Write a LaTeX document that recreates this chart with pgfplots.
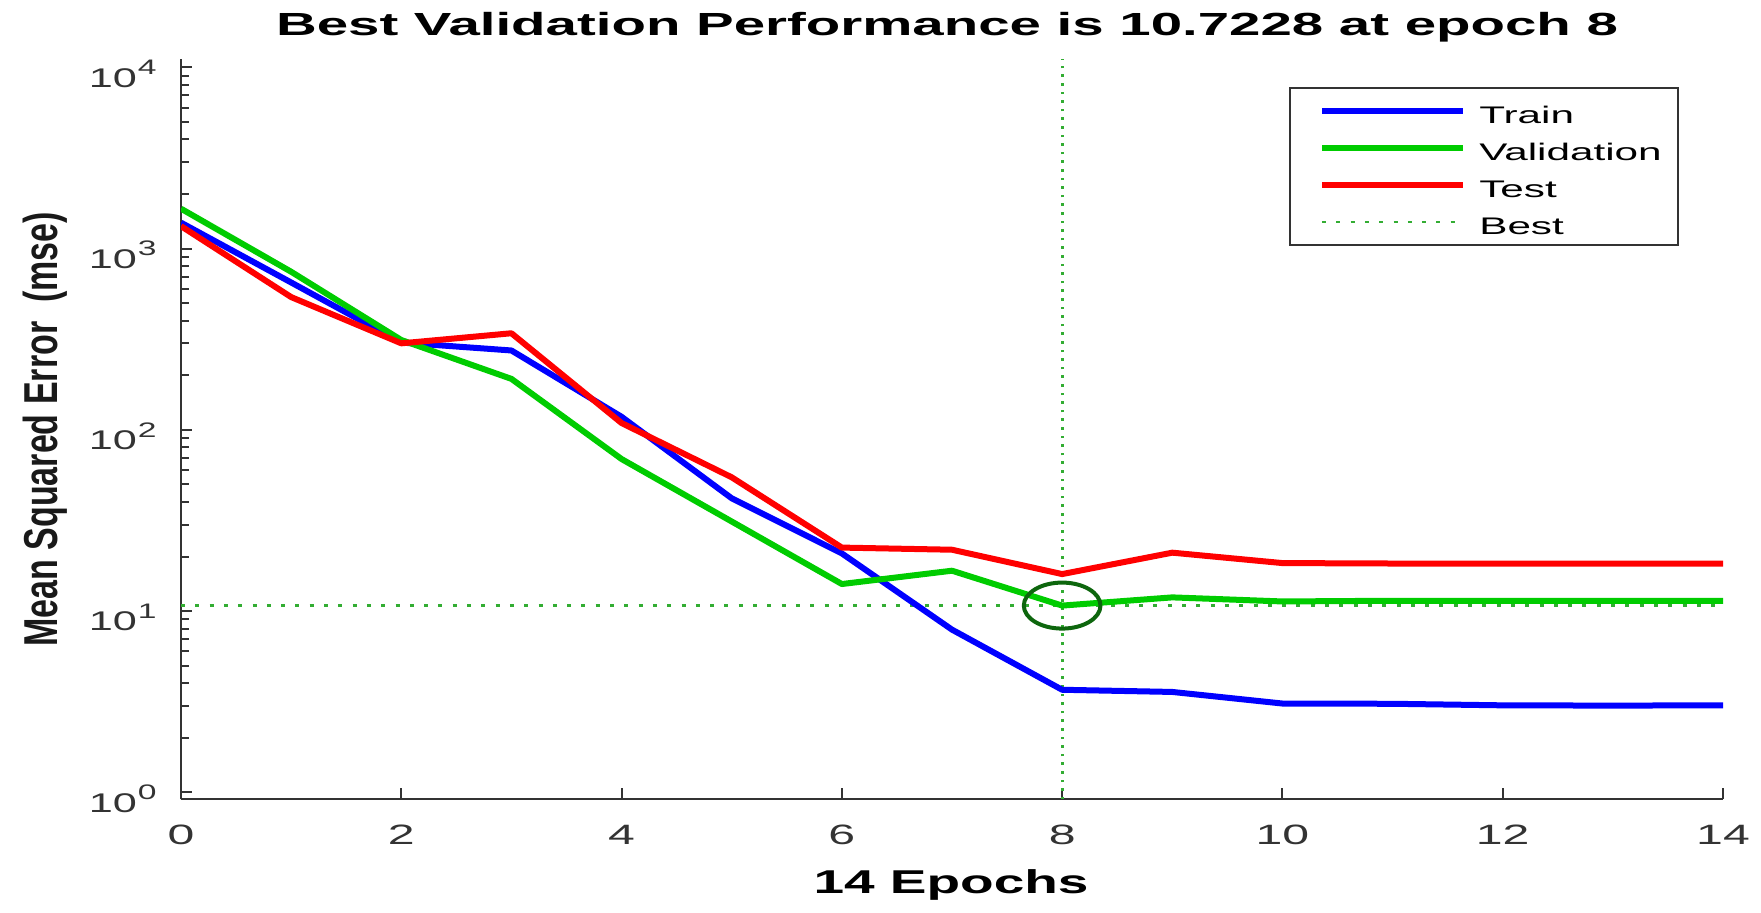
\documentclass[border=0pt]{standalone}
\usepackage{pgfplots}
\pgfplotsset{compat=1.18}
\usepackage{pgfplotstable}
\usepackage{graphicx}
\usepackage{fontspec}
\setmainfont{Liberation Sans}

\definecolor{mblue}{rgb}{0,0,1}
\definecolor{mgreen}{rgb}{0,0.8,0}
\definecolor{mred}{rgb}{1,0,0}
\definecolor{bestg}{rgb}{0.2,0.68,0.2}
\definecolor{circg}{rgb}{0.05,0.4,0.05}
\definecolor{axgray}{rgb}{0.2,0.2,0.2}

% the source figure is stretched sideways, so the text is too
\newcommand{\sx}[2][1.72]{\scalebox{#1}[1]{#2}}
\newcommand{\yl}[1]{\scalebox{1.6}[1]{\fontsize{13.5}{15}\selectfont 10\kern0.3pt\raisebox{6.2pt}{\fontsize{10.5}{12}\selectfont #1}}}

% mse per epoch
\pgfplotstableread{
ep  train  valid    test
0   1390   1660     1330
1   650    745      540
2   303    313      300
3   274    191      341
4   118    69       109
5   41.9   31.2     54.7
6   20.8   14.1     22.4
7   7.9    16.7     21.8
8   3.68   10.7228  16.0
9   3.58   11.9     21.0
10  3.09   11.3     18.4
11  3.08   11.4     18.3
12  3.02   11.4     18.3
13  3.01   11.4     18.3
14  3.02   11.4     18.3
}\mse

\begin{document}
\begin{tikzpicture}
\begin{axis}[
  scale only axis,
  width=771pt, height=370pt,
  xmin=0, xmax=14,
  ymode=log, ymin=0.915, ymax=11070,
  axis lines=left,
  axis line style={-, axgray, line width=1pt},
  tick align=inside,
  tick style={axgray, line width=1pt},
  major tick length=5.5pt, minor tick length=4pt,
  xtick={0,2,...,14},
  xticklabels={\sx{0},\sx{2},\sx{4},\sx{6},\sx{8},\sx{10},\sx{12},\sx{14}},
  xticklabel style={anchor=base, inner sep=0pt, yshift=-22.35pt, text=axgray, font=\fontsize{14}{16}\selectfont},
  ytick={1,10,100,1000,10000},
  minor ytick={2,3,4,5,6,7,8,9,20,30,40,50,60,70,80,90,200,300,400,500,600,700,800,900,2000,3000,4000,5000,6000,7000,8000,9000},
  yticklabels={\yl{0},\yl{1},\yl{2},\yl{3},\yl{4}},
  yticklabel style={anchor=base east, inner sep=0pt, xshift=-12pt, yshift=-9.85pt, text=axgray},
  title={\sx[1.763]{Best Validation Performance is 10.7228 at epoch 8}},
  title style={at={(axis description cs:0.4968,1)}, anchor=base, inner sep=0pt, yshift=6.15pt, font=\bfseries\fontsize{16}{19}\selectfont},
  xlabel={\sx[1.666]{14 Epochs}},
  xlabel style={at={(axis description cs:0.4994,-0.1266)}, anchor=base, inner sep=0pt, font=\bfseries\fontsize{16.5}{19}\selectfont},
  ylabel={\scalebox{1}[1.4]{Mean Squared Error\ \ (mse)}},
  ylabel style={at={(axis description cs:-0.0798,0.5)}, anchor=base, inner sep=0pt, text=black!90, font=\bfseries\fontsize{17}{20}\selectfont},
  legend cell align=left,
  legend style={at={(rel axis cs:0.71855,0.9626)}, anchor=north west,
    draw=axgray, line width=1pt, inner xsep=8pt, inner ysep=5.2pt,
    row sep=5.9pt, column sep=6.65pt,
    font=\fontsize{12}{14}\selectfont,
    nodes={inner sep=0pt, text height=12.6pt, text depth=0pt}},
  legend image code/.code={\path (0pt,0pt); \draw[#1] (6.5pt,0pt) -- (77pt,0pt);},
  every axis plot/.append style={line join=round},
]
% best epoch guides
\addplot[forget plot, bestg, line width=1.5pt, dash pattern=on 1.3pt off 3pt] coordinates {(8,0.915) (8,11070)};
\addplot[forget plot, bestg, line width=1.3pt, dash pattern=on 2pt off 5.15pt] coordinates {(0,10.7228) (14,10.7228)};

\addplot[mblue, line width=3pt] table[x=ep, y=train] {\mse};
\addplot[mgreen, line width=3pt] table[x=ep, y=valid] {\mse};
\addplot[mred, line width=3pt] table[x=ep, y=test] {\mse};
\addlegendimage{bestg, line width=1.3pt, dash pattern=on 2pt off 5.15pt}

\addplot[forget plot, only marks, mark=o, mark size=11.5pt, circg,
  mark options={xscale=1.667, line width=2pt}] coordinates {(8,10.7228)};

\legend{\sx[1.76]{Train}, \sx[1.76]{Validation}, \sx[1.76]{Test}, \sx[1.76]{Best}}

\coordinate (bbl) at (rel axis cs:-0.11738,-0.15230);
\coordinate (btr) at (rel axis cs:1.02464,1.08014);
\end{axis}
\path (bbl) rectangle (btr);
\end{tikzpicture}
\end{document}
